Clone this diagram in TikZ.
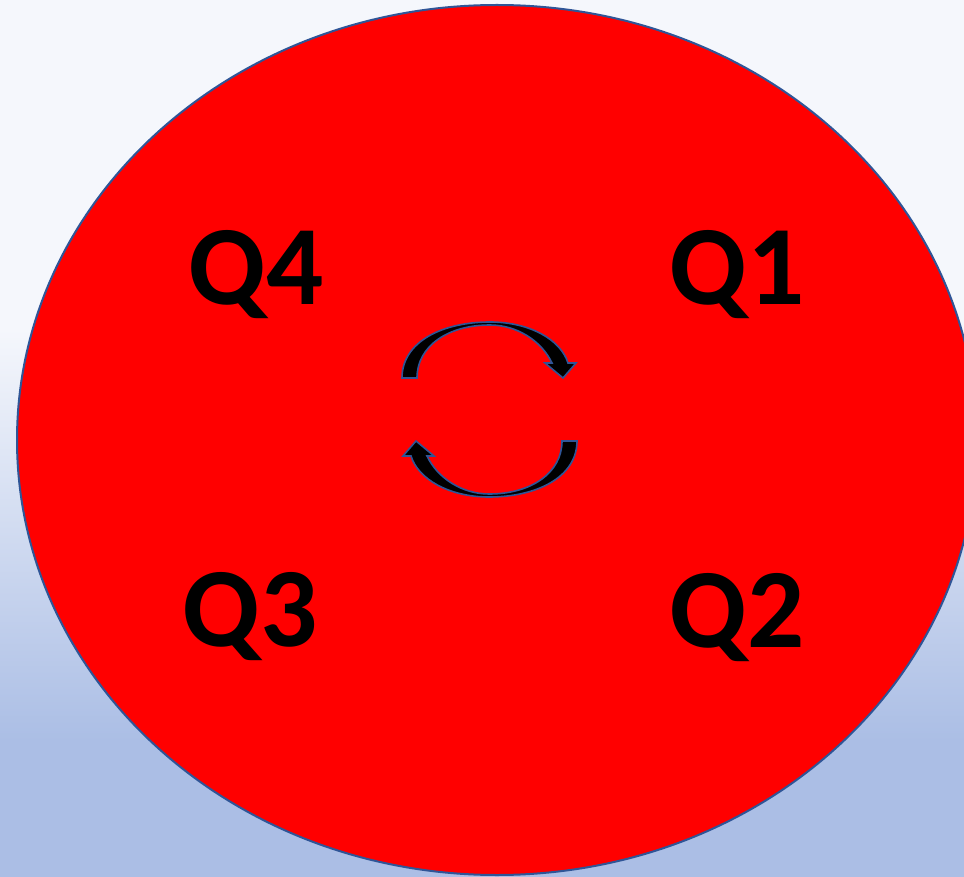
\documentclass[tikz,border=0pt]{standalone}
\usepackage{fontspec}
\setmainfont{Carlito}
\definecolor{bgtop}{HTML}{F5F7FC}
\definecolor{bgbot}{HTML}{ABBEE5}
\definecolor{rimblue}{HTML}{2F5597}
\definecolor{discred}{HTML}{FF0000}
\tikzset{
  qlabel/.style={font=\fontsize{113}{113}\selectfont\bfseries, text=black, inner sep=0pt, anchor=base},
  cyclearrow/.style={fill=black, draw=rimblue, line width=1.6pt, line join=miter}
}
\begin{document}
\begin{tikzpicture}[x=1pt,y=-1pt]
\useasboundingbox (0,0) rectangle (964,877);
\clip (0,0) rectangle (964,877);
% background
\fill[bgtop] (0,0) rectangle (964,330);
\shade[top color=bgtop, bottom color=bgbot, shading angle=0] (0,329) rectangle (964,741);
\fill[bgbot] (0,740) rectangle (964,877);
% disc
\draw[fill=discred, draw=rimblue, line width=2pt] (497,440) ellipse [x radius=480, y radius=435];
% labels
\node[qlabel] (q4) at (256,305) {Q4};
\node[qlabel] (q1) at (737,305) {Q1};
\node[qlabel] (q3) at (250,646) {Q3};
\node[qlabel] (q2) at (737,647) {Q2};
% cycle arrows
\path[cyclearrow] (402,378) .. controls (402,342) and (442,322) .. (490,322)
  .. controls (530,322) and (561,340) .. (568,363) -- (576,363) -- (563,378) -- (545,363) -- (552,363)
  .. controls (541,340) and (516,325) .. (490,325)
  .. controls (448,325) and (417,346) .. (417,378) -- cycle;
\begin{scope}[rotate around={180:(489.5,409.5)}]
\path[cyclearrow] (402,378) .. controls (402,342) and (442,322) .. (490,322)
  .. controls (530,322) and (561,340) .. (568,363) -- (576,363) -- (563,378) -- (545,363) -- (552,363)
  .. controls (541,340) and (516,325) .. (490,325)
  .. controls (448,325) and (417,346) .. (417,378) -- cycle;
\end{scope}
\end{tikzpicture}
\end{document}
